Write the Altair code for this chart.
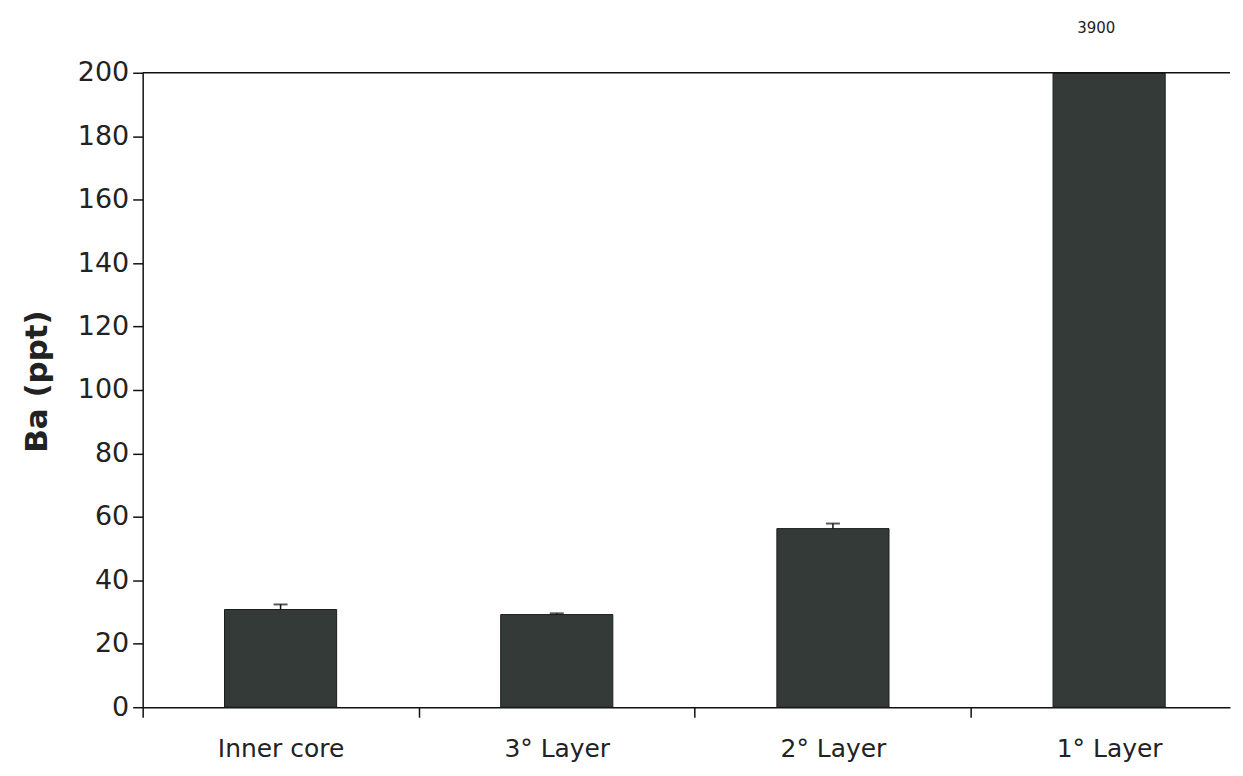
import altair as alt
import pandas as pd

categories = ["Inner core", "3° Layer", "2° Layer", "1° Layer"]
values = [30.8, 29.2, 56.3, 3900]
errors = [1.6, 0.4, 1.6, 0]
annot = ["", "", "", "3900"]

df = pd.DataFrame({"cat": categories, "val": values, "err": errors, "lab": annot})
df["hi"] = df["val"] + df["err"]

FONT = "DejaVu Sans"
TXT = "#222222"

xscale = alt.Scale(paddingInner=0.594, paddingOuter=0.2655, align=0.558)
xenc = alt.X("cat:N", sort=categories, scale=xscale,
             axis=alt.Axis(title=None, labelAngle=0, bandPosition=0.5,
                           tickOffset=-138.5, labelOffset=138.5,
                           labelFont=FONT, labelFontSize=25, labelColor=TXT,
                           labelPadding=19, tickSize=10, tickColor="#111",
                           domainColor="#111", tickWidth=1.5, domainWidth=1.5))
yscale = alt.Scale(domain=[0, 200], clamp=True, nice=False)

base = alt.Chart(df)

bars = base.mark_bar(color="#343a38", stroke="#1a1d1c", strokeWidth=1).encode(
    x=xenc,
    y=alt.Y("val:Q", scale=yscale,
            axis=alt.Axis(title="Ba (ppt)", values=list(range(0, 201, 20)), grid=False,
                          labelFont=FONT, labelFontSize=27, labelColor=TXT,
                          labelPadding=4, tickSize=10, tickColor="#111",
                          domainColor="#111", tickWidth=1.5, domainWidth=1.5,
                          titleFont=FONT, titleFontSize=31, titleFontWeight="bold",
                          titleColor=TXT, titleX=-89, titleY=309)),
)

err_rule = base.transform_filter("datum.err > 0").mark_rule(color="#111", strokeWidth=1.5).encode(
    x=alt.X("cat:N", sort=categories, scale=xscale), y=alt.Y("val:Q", scale=yscale), y2="hi:Q"
)
err_cap = base.transform_filter("datum.err > 0").mark_tick(color="#111", thickness=2, size=14, orient="horizontal").encode(
    x=alt.X("cat:N", sort=categories, scale=xscale), y=alt.Y("hi:Q", scale=yscale)
)

top_line = alt.Chart(pd.DataFrame({"t": [200]})).mark_rule(color="#111", strokeWidth=1.5).encode(
    y=alt.Y("t:Q", scale=yscale)
)

label = base.transform_filter("datum.lab != ''").mark_text(
    font=FONT, fontSize=15, color=TXT, dx=-13
).encode(x=alt.X("cat:N", sort=categories, scale=xscale), y=alt.value(-45), text="lab:N")

chart = alt.layer(bars, err_rule, err_cap, top_line, label).properties(
    width=1090, height=636,
    background="white",
    autosize=alt.AutoSizeParams(type="none"),
    padding={"left": 135, "top": 64, "right": 5, "bottom": 60},
).configure_view(stroke=None)

chart.save("out.html", embed_options={"renderer": "svg", "actions": False})
